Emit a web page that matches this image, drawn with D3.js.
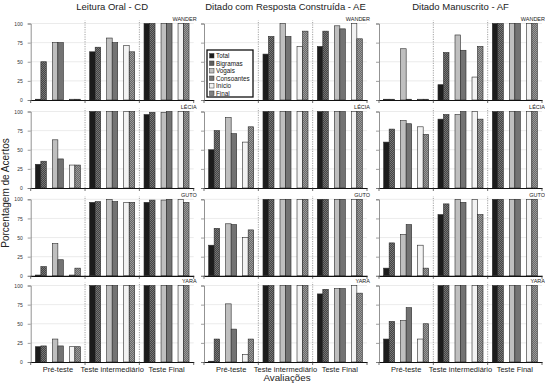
<!DOCTYPE html>
<html><head><meta charset="utf-8">
<script src="https://cdn.jsdelivr.net/npm/d3@7"></script>
<style>body{margin:0;background:#fff}svg{display:block;font-family:"Liberation Sans",Arial,sans-serif}</style>
</head><body><svg id="c" width="545" height="387"></svg>
<script>
const students = ["WANDER", "LÉCIA", "GUTO", "YARA"];
const tests = ["Leitura Oral - CD", "Ditado com Resposta Construída - AE", "Ditado Manuscrito - AF"];
const phases = ["Pré-teste", "Teste intermediário", "Teste Final"];
const measures = ["Total", "Bigramas", "Vogais", "Consoantes", "Início", "Final"];
const yTicks = [0, 25, 50, 75, 100];

// values: [Pré-teste, Teste intermediário, Teste Final] x measures
const WANDER_CD = [[1,50,75,75,1,1],[63,69,81,75,71,63],[100,100,100,100,100,100]];
const WANDER_AE = [[0,0,0,0,0,0],[60,83,100,83,70,90],[70,90,97,93,100,80]];
const WANDER_AF = [[1,1,67,1,1,1],[20,62,85,65,30,70],[100,100,100,100,100,100]];
const LECIA_CD = [[31,35,63,38,30,30],[100,100,100,100,100,100],[96,99,99,100,100,100]];
const LECIA_AE = [[50,75,92,71,60,80],[100,100,100,100,100,100],[100,100,100,100,100,100]];
const LECIA_AF = [[60,77,88,84,80,70],[90,96,96,100,100,90],[100,100,100,100,100,100]];
const GUTO_CD = [[1,12,42,21,1,10],[96,97,100,97,96,96],[96,99,99,100,100,96]];
const GUTO_AE = [[40,62,68,67,50,60],[100,100,100,100,100,100],[100,100,100,100,100,100]];
const GUTO_AF = [[10,43,54,67,40,10],[80,94,100,96,100,80],[100,100,100,100,100,100]];
const YARA_CD = [[20,21,30,21,20,20],[100,100,100,100,100,100],[100,100,100,100,100,100]];
const YARA_AE = [[1,30,76,43,10,30],[100,100,100,100,100,100],[89,95,96,96,100,90]];
const YARA_AF = [[30,53,54,71,30,50],[100,100,100,100,100,100],[100,100,100,100,100,100]];

const grid = [
  [WANDER_CD, WANDER_AE, WANDER_AF],
  [LECIA_CD, LECIA_AE, LECIA_AF],
  [GUTO_CD, GUTO_AE, GUTO_AF],
  [YARA_CD, YARA_AE, YARA_AF]
];

const svg = d3.select("#c");
const defs = svg.append("defs");
function pat(id, base, dot) {
  const p = defs.append("pattern").attr("id", id).attr("width", 2).attr("height", 2).attr("patternUnits", "userSpaceOnUse");
  p.append("rect").attr("width", 2).attr("height", 2).attr("fill", base);
  p.append("rect").attr("width", 1).attr("height", 1).attr("fill", dot);
  p.append("rect").attr("x", 1).attr("y", 1).attr("width", 1).attr("height", 1).attr("fill", dot);
}
pat("pBig", "#454545", "#767676");
pat("pFin", "#6a6a6a", "#9a9a9a");
const fills = { Total: "#1c1c1c", Bigramas: "url(#pBig)", Vogais: "#bfbfbf", Consoantes: "#737373", "Início": "#f3f3f3", Final: "url(#pFin)" };

const colLeft = [30.7, 204, 379];
const panelW = 163;
const rowBottom = [100, 188, 275.8, 362];
const panelH = 76.5;

const pairScale = d3.scaleBand().domain([0, 1, 2]).paddingInner(6 / 17).paddingOuter(4.65 / 17);

grid.forEach((row, ri) => {
  row.forEach((vals, ci) => {
    const x0 = colLeft[ci];
    const yb = rowBottom[ri];
    const y = d3.scaleLinear().domain([0, 100]).range([yb, yb - panelH]);
    const xg = d3.scaleBand().domain(phases).range([x0, x0 + panelW]);
    pairScale.range([0, xg.bandwidth()]);
    const sub = d3.scaleBand().domain([0, 1]).range([0, pairScale.bandwidth()]);
    const g = svg.append("g");

    g.selectAll("line.grid").data(yTicks.slice(1)).join("line")
      .attr("x1", x0).attr("x2", x0 + panelW)
      .attr("y1", d => y(d)).attr("y2", d => y(d))
      .attr("stroke", "#e2e2e2").attr("stroke-width", 0.7);

    g.selectAll("line.sep").data(phases.slice(1)).join("line")
      .attr("x1", d => xg(d)).attr("x2", d => xg(d))
      .attr("y1", yb).attr("y2", y(104))
      .attr("stroke", "#8a8a8a").attr("stroke-width", 0.8).attr("stroke-dasharray", "1.2,1.2");

    const bars = [];
    phases.forEach((ph, pi) => {
      measures.forEach((m, mi) => {
        bars.push({ ph, m, mi, v: vals[pi][mi] });
      });
    });
    g.selectAll("rect").data(bars).join("rect")
      .attr("x", d => xg(d.ph) + pairScale(Math.floor(d.mi / 2)) + sub(d.mi % 2))
      .attr("width", sub.bandwidth())
      .attr("y", d => y(d.v))
      .attr("height", d => yb - y(d.v))
      .attr("fill", d => fills[d.m])
      .attr("stroke", "#2a2a2a").attr("stroke-width", 0.6);

    const ax = d3.axisLeft(y).tickValues(yTicks).tickSize(3).tickPadding(5);
    if (ci !== 0) ax.tickFormat("");
    const ag = svg.append("g").attr("transform", `translate(${x0},0)`).call(ax);
    ag.select(".domain").attr("stroke", "#777").attr("stroke-width", 0.8);
    ag.selectAll(".tick line").attr("stroke", "#777").attr("stroke-width", 0.7);
    ag.selectAll("text").attr("font-size", 5).attr("fill", "#333");

    const xa = d3.axisBottom(xg).tickSize(0).tickFormat("");
    const xgp = svg.append("g").attr("transform", `translate(0,${yb})`).call(xa);
    xgp.select(".domain").attr("stroke", "#111").attr("stroke-width", 1.2);
    xgp.selectAll("line.bt").data(phases.slice(1).map(p => xg(p)).concat([x0, x0 + panelW])).join("line")
      .attr("class", "bt").attr("x1", d => d).attr("x2", d => d).attr("y1", 0).attr("y2", 3)
      .attr("stroke", "#333").attr("stroke-width", 0.7);

    svg.append("text").attr("x", x0 + panelW + 3).attr("y", y(100) - 2.5)
      .attr("text-anchor", "end").attr("font-size", 5.5).attr("fill", "#222").text(students[ri]);

    if (ri === grid.length - 1) {
      svg.selectAll(null).data(phases).join("text")
        .attr("x", d => xg(d) + xg.bandwidth() / 2).attr("y", yb + 9.5)
        .attr("text-anchor", "middle").attr("font-size", 7.5).attr("fill", "#222").text(d => d);
    }
    if (ri === 0) {
      svg.append("text").attr("x", x0 + panelW / 2).attr("y", 10)
        .attr("text-anchor", "middle").attr("font-size", 9.5).attr("fill", "#222").text(tests[ci]);
    }
  });
});

svg.append("text").attr("transform", "translate(9,193) rotate(-90)")
  .attr("text-anchor", "middle").attr("font-size", 10).attr("fill", "#222").text("Porcentagem de Acertos");
svg.append("text").attr("x", 287).attr("y", 381)
  .attr("text-anchor", "middle").attr("font-size", 9.8).attr("fill", "#222").text("Avaliações");

const lg = svg.append("g").attr("transform", "translate(207,50)");
lg.append("rect").attr("width", 46).attr("height", 47).attr("fill", "#fff").attr("stroke", "#111").attr("stroke-width", 1.3);
const li = lg.selectAll("g.it").data(measures).join("g").attr("transform", (d, i) => `translate(2.5,${3.5 + i * 7.5})`);
li.append("rect").attr("width", 4.5).attr("height", 4.5).attr("fill", d => fills[d]).attr("stroke", "#333").attr("stroke-width", 0.5);
li.append("text").attr("x", 6.5).attr("y", 4.6).attr("font-size", 6.3).attr("fill", "#111").text(d => d);
</script></body></html>
